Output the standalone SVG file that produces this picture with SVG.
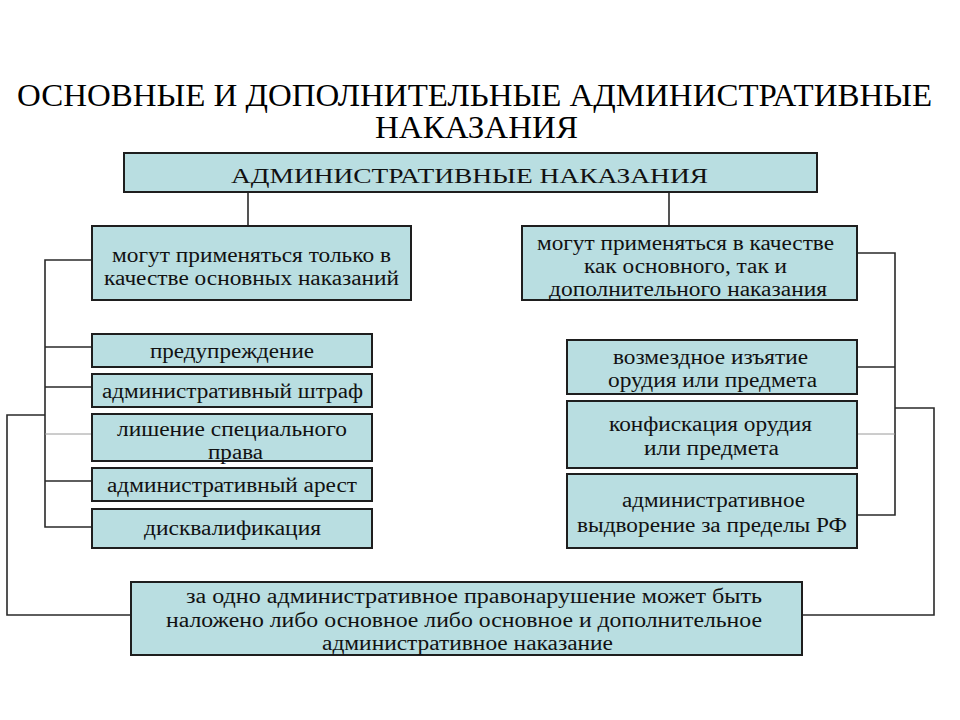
<svg xmlns="http://www.w3.org/2000/svg" width="960" height="720" viewBox="0 0 960 720">
<style>
.box{fill:#b9dee1;stroke:#1e1e1e;stroke-width:2}
.t{fill:#111;font-size:20px}
.ttl{fill:#000;font-size:31px}
.c{fill:none;stroke:#2a2a2a;stroke-width:1.6}
.cl{fill:none;stroke:#9a9a9a;stroke-width:1}
</style>
<rect width="960" height="720" fill="#fff"/>
<g id="title" font-family="'Liberation Serif', 'Times New Roman', 'DejaVu Serif', serif">
<text class="ttl" x="17" y="106" textLength="915" lengthAdjust="spacingAndGlyphs">ОСНОВНЫЕ И ДОПОЛНИТЕЛЬНЫЕ АДМИНИСТРАТИВНЫЕ</text>
<text class="ttl" x="375" y="138" textLength="203" lengthAdjust="spacingAndGlyphs">НАКАЗАНИЯ</text>
</g>
<g id="connectors">
<path class="c" d="M248 192V226M669 192V226"/>
<path class="c" d="M92 260H45V527H92M45 347H92M45 387H92M45 481H92"/>
<path class="cl" d="M45 434H92"/>
<path class="c" d="M45 415H7V615H131"/>
<path class="c" d="M857 253H895V515H857M857 367H895"/>
<path class="cl" d="M857 434H895"/>
<path class="c" d="M895 408H934V615H802"/>
</g>
<g font-family="'Liberation Serif', 'Times New Roman', 'DejaVu Serif', serif">
<g id="top">
<rect class="box" x="124" y="153" width="693" height="39"/>
<text class="t" x="231" y="183" font-size="22" textLength="477" lengthAdjust="spacingAndGlyphs">АДМИНИСТРАТИВНЫЕ НАКАЗАНИЯ</text>
</g>
<g id="left-main">
<rect class="box" x="92" y="226" width="319" height="74"/>
<text class="t" x="112" y="262" textLength="279" lengthAdjust="spacingAndGlyphs">могут применяться только в</text>
<text class="t" x="104" y="285" textLength="295" lengthAdjust="spacingAndGlyphs">качестве основных наказаний</text>
</g>
<g id="right-main">
<rect class="box" x="522" y="226" width="335" height="74"/>
<text class="t" x="537" y="250" textLength="297" lengthAdjust="spacingAndGlyphs">могут применяться в качестве</text>
<text class="t" x="584" y="273" textLength="203" lengthAdjust="spacingAndGlyphs">как основного, так и</text>
<text class="t" x="549" y="296" textLength="278" lengthAdjust="spacingAndGlyphs">дополнительного наказания</text>
</g>
<g id="warning">
<rect class="box" x="92" y="334" width="280" height="33"/>
<text class="t" x="150" y="358" textLength="164" lengthAdjust="spacingAndGlyphs">предупреждение</text>
</g>
<g id="fine">
<rect class="box" x="92" y="374" width="280" height="33"/>
<text class="t" x="102" y="398" textLength="261" lengthAdjust="spacingAndGlyphs">административный штраф</text>
</g>
<g id="deprivation">
<rect class="box" x="92" y="414" width="280" height="47"/>
<text class="t" x="117" y="436" textLength="230" lengthAdjust="spacingAndGlyphs">лишение специального</text>
<text class="t" x="208" y="459" textLength="55" lengthAdjust="spacingAndGlyphs">права</text>
</g>
<g id="arrest">
<rect class="box" x="92" y="468" width="280" height="33"/>
<text class="t" x="107" y="492" textLength="250" lengthAdjust="spacingAndGlyphs">административный арест</text>
</g>
<g id="disqualification">
<rect class="box" x="92" y="509" width="280" height="39"/>
<text class="t" x="144" y="535" textLength="177" lengthAdjust="spacingAndGlyphs">дисквалификация</text>
</g>
<g id="compensated-seizure">
<rect class="box" x="567" y="340" width="290" height="54"/>
<text class="t" x="613" y="364" textLength="195" lengthAdjust="spacingAndGlyphs">возмездное изъятие</text>
<text class="t" x="608" y="387" textLength="209" lengthAdjust="spacingAndGlyphs">орудия или предмета</text>
</g>
<g id="confiscation">
<rect class="box" x="567" y="401" width="290" height="67"/>
<text class="t" x="609" y="431" textLength="203" lengthAdjust="spacingAndGlyphs">конфискация орудия</text>
<text class="t" x="644" y="455" textLength="135" lengthAdjust="spacingAndGlyphs">или предмета</text>
</g>
<g id="expulsion">
<rect class="box" x="567" y="474" width="290" height="74"/>
<text class="t" x="622" y="507" textLength="183" lengthAdjust="spacingAndGlyphs">административное</text>
<text class="t" x="577" y="532" textLength="270" lengthAdjust="spacingAndGlyphs">выдворение за пределы РФ</text>
</g>
<g id="bottom">
<rect class="box" x="131" y="582" width="671" height="73"/>
<text class="t" x="186" y="603" textLength="576" lengthAdjust="spacingAndGlyphs">за одно административное правонарушение может быть</text>
<text class="t" x="166" y="627" textLength="596" lengthAdjust="spacingAndGlyphs">наложено либо основное либо основное и дополнительное</text>
<text class="t" x="322" y="650" textLength="291" lengthAdjust="spacingAndGlyphs">административное наказание</text>
</g>
</g>
</svg>
